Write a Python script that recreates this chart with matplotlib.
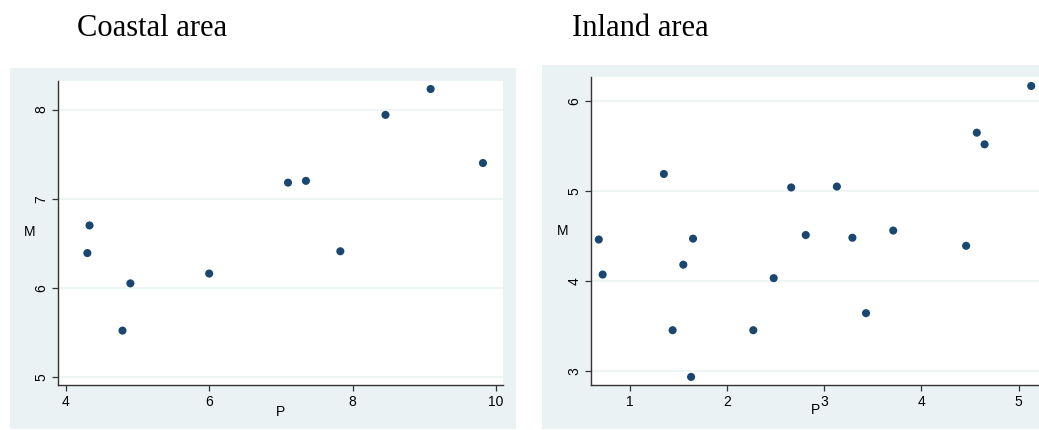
import matplotlib
matplotlib.use('Agg')
import matplotlib.pyplot as plt
from matplotlib.patches import Rectangle

# Coastal area
coastal_p = [4.30, 4.33, 4.79, 4.90, 6.00, 7.10, 7.35, 7.83, 8.46, 9.09, 9.82]
coastal_m = [6.39, 6.70, 5.52, 6.05, 6.16, 7.18, 7.20, 6.41, 7.94, 8.23, 7.40]

# Inland area
inland_p = [0.68, 0.72, 1.35, 1.44, 1.55, 1.63, 1.65, 2.27, 2.48, 2.66,
            2.81, 3.13, 3.29, 3.43, 3.71, 4.46, 4.57, 4.65, 5.13]
inland_m = [4.46, 4.07, 5.19, 3.45, 4.18, 2.93, 4.47, 3.45, 4.03, 5.04,
            4.51, 5.05, 4.48, 3.64, 4.56, 4.39, 5.65, 5.52, 6.17]

W, H = 1039, 430
navy = '#1a476f'
region = '#eaf2f3'

fig = plt.figure(figsize=(W / 100, H / 100), dpi=100)

def px_box(x0, y0, x1, y1):
    # pixel box (top-left origin) -> figure fraction [left, bottom, width, height]
    return [x0 / W, (H - y1) / H, (x1 - x0) / W, (y1 - y0) / H]

# graph region backgrounds
for box in [px_box(10, 68, 516, 429), px_box(542, 65, 1045, 429)]:
    fig.patches.append(Rectangle((box[0], box[1]), box[2], box[3],
                                 transform=fig.transFigure, facecolor=region,
                                 edgecolor='none', zorder=-5))

panels = [
    dict(box=px_box(58, 81, 503, 385), p=coastal_p, m=coastal_m,
         xlim=(3.89, 10.1), ylim=(4.91, 8.32), xt=[4, 6, 8, 10], yt=[5, 6, 7, 8],
         title='Coastal area', tx=77, mlab=(-0.063, 0.503), plab=(0.5, -0.089)),
    dict(box=px_box(591, 77, 1039, 385), p=inland_p, m=inland_m,
         xlim=(0.60, 5.21), ylim=(2.84, 6.27), xt=[1, 2, 3, 4, 5], yt=[3, 4, 5, 6],
         title='Inland area', tx=572, mlab=(-0.0625, 0.50), plab=(0.5, -0.081)),
]

for pn in panels:
    ax = fig.add_axes(pn['box'])
    ax.set_zorder(1)
    ax.set_facecolor('white')
    ax.scatter(pn['p'], pn['m'], s=34, color=navy, edgecolors='none', zorder=3,
               clip_on=False)
    ax.set_xlim(pn['xlim'])
    ax.set_ylim(pn['ylim'])
    ax.set_xticks(pn['xt'])
    ax.set_yticks(pn['yt'])
    ax.yaxis.grid(True, color=region, linewidth=1.1)
    ax.set_axisbelow(True)
    for s in ['top', 'right']:
        ax.spines[s].set_visible(False)
    for s in ['left', 'bottom']:
        ax.spines[s].set_color('#333333')
        ax.spines[s].set_linewidth(1.0)
    ax.tick_params(direction='out', length=4, width=0.9, color='#333333',
                   labelsize=10, labelcolor='black', pad=3)
    for lab in ax.get_xticklabels() + ax.get_yticklabels():
        lab.set_fontfamily('Liberation Sans')
    for lab in ax.get_yticklabels():
        lab.set_rotation(90)
        lab.set_va('center')
    ax.set_ylabel('M', rotation=0, fontsize=10, family='Liberation Sans')
    ax.yaxis.set_label_coords(*pn['mlab'])
    ax.yaxis.label.set_va('center')
    ax.set_xlabel('P', fontsize=10, family='Liberation Sans')
    ax.xaxis.set_label_coords(*pn['plab'])
    ax.xaxis.label.set_va('center')
    fig.text(pn['tx'] / W, (H - 36) / H, pn['title'], fontsize=22,
             family='Liberation Serif', va='baseline', ha='left')

fig.savefig('out.png', dpi=100)
